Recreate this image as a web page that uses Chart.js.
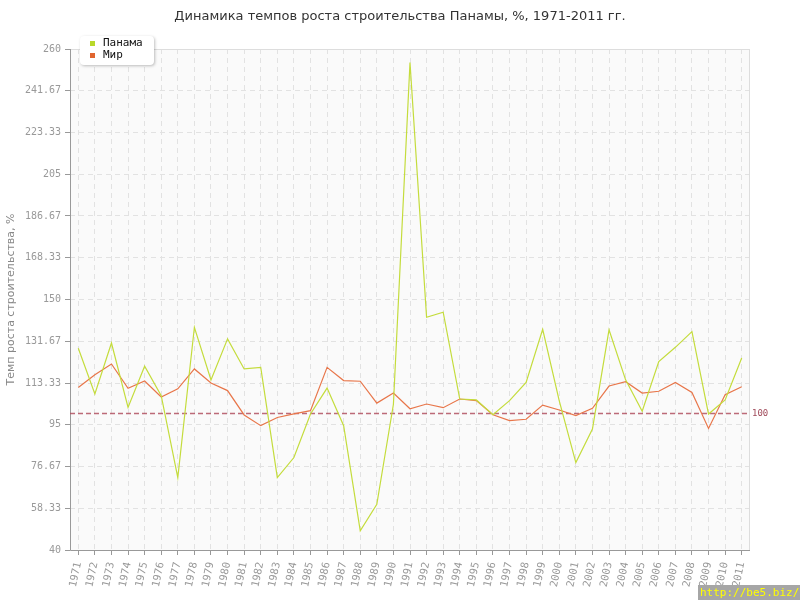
<!DOCTYPE html>
<html>
<head>
<meta charset="utf-8">
<script src="https://cdn.jsdelivr.net/npm/chart.js@4/dist/chart.umd.min.js"></script>
<style>
html,body{margin:0;padding:0;background:#fff;}
#wrap{width:800px;height:600px;position:relative;}
</style>
</head>
<body>
<div id="wrap"><canvas id="c" width="800" height="600"></canvas></div>
<script>
const titleText = 'Динамика темпов роста строительства Панамы, %, 1971-2011 гг.';
const yAxisTitle = 'Темп роста строительства, %';
const years = ['1971','1972','1973','1974','1975','1976','1977','1978','1979','1980',
  '1981','1982','1983','1984','1985','1986','1987','1988','1989','1990',
  '1991','1992','1993','1994','1995','1996','1997','1998','1999','2000',
  '2001','2002','2003','2004','2005','2006','2007','2008','2009','2010','2011'];
const panamaLabel = 'Панама';
const worldLabel = 'Мир';
const panama = [128.6, 108.5, 130.9, 102.6, 120.7, 107.8, 71.8, 137.8, 114.7, 132.7,
  119.5, 120.2, 71.8, 80.6, 99.7, 111.1, 94.6, 48.4, 60.1, 104,
  254.1, 142.2, 144.4, 106.3, 105.9, 99.4, 105.6, 113.6, 136.9, 105.5,
  78.4, 93.1, 136.7, 114.7, 100.9, 122.7, 129, 135.9, 99.7, 105.9, 124.3];
const world = [111.4, 117, 121.7, 111, 114.2, 107.2, 110.8, 119.5, 113.3, 110,
  99.3, 94.6, 98.2, 99.8, 101.2, 120.2, 114.4, 114.1, 104.5, 108.9,
  102, 104.1, 102.5, 106.3, 105.6, 99.4, 96.8, 97.4, 103.6, 101.5,
  99, 102.2, 112, 113.9, 108.9, 109.7, 113.6, 109.2, 93.4, 108.2, 111.7];
const yTicks = [40, 58.33, 76.67, 95, 113.33, 131.67, 150, 168.33, 186.67, 205, 223.33, 241.67, 260];
const yTickLabels = ['40','58.33','76.67','95','113.33','131.67','150','168.33','186.67','205','223.33','241.67','260'];
const refValue = 100;
const refLabel = '100';
const watermark = 'http://be5.biz/';

const colPanama = '#c4dc3c';
const colWorld = '#e8764a';

const decorPlugin = {
  id: 'decor',
  beforeDraw(chart) {
    const {ctx, chartArea: a} = chart;
    ctx.save();
    ctx.fillStyle = '#fff';
    ctx.fillRect(0, 0, chart.width, chart.height);
    ctx.fillStyle = '#fafafa';
    ctx.fillRect(a.left, a.top, a.right - a.left, a.bottom - a.top);
    ctx.restore();
  },
  beforeDatasetsDraw(chart) {
    const {ctx, chartArea: a, scales} = chart;
    ctx.save();
    ctx.lineWidth = 1;
    ctx.strokeStyle = '#dddddd';
    ctx.beginPath();
    ctx.moveTo(a.left, a.top + 0.5); ctx.lineTo(a.right, a.top + 0.5);
    ctx.moveTo(a.right - 0.5, a.top); ctx.lineTo(a.right - 0.5, a.bottom);
    ctx.stroke();
    ctx.strokeStyle = '#999999';
    ctx.beginPath();
    ctx.moveTo(a.left + 0.5, a.top); ctx.lineTo(a.left + 0.5, a.bottom + 0.5);
    ctx.lineTo(a.right, a.bottom + 0.5);
    ctx.stroke();
    const y = Math.round(scales.y.getPixelForValue(refValue)) + 0.5;
    ctx.strokeStyle = 'rgba(176,80,96,0.85)';
    ctx.lineWidth = 1.5;
    ctx.setLineDash([5, 3]);
    ctx.beginPath();
    ctx.moveTo(a.left, y); ctx.lineTo(a.right, y);
    ctx.stroke();
    ctx.setLineDash([]);
    ctx.fillStyle = '#a04a5a';
    ctx.font = '9px "DejaVu Sans Mono"';
    ctx.textAlign = 'left';
    ctx.textBaseline = 'middle';
    ctx.fillText(refLabel, a.right + 2, y);
    ctx.restore();
  },
  afterDraw(chart) {
    const {ctx} = chart;
    ctx.save();
    const bx = 80, by = 36, bw = 74, bh = 29, r = 4;
    ctx.shadowColor = 'rgba(0,0,0,0.25)';
    ctx.shadowBlur = 3;
    ctx.shadowOffsetX = 1;
    ctx.shadowOffsetY = 1;
    ctx.fillStyle = '#ffffff';
    ctx.beginPath();
    ctx.moveTo(bx + r, by);
    ctx.lineTo(bx + bw - r, by);
    ctx.quadraticCurveTo(bx + bw, by, bx + bw, by + r);
    ctx.lineTo(bx + bw, by + bh - r);
    ctx.quadraticCurveTo(bx + bw, by + bh, bx + bw - r, by + bh);
    ctx.lineTo(bx + r, by + bh);
    ctx.quadraticCurveTo(bx, by + bh, bx, by + bh - r);
    ctx.lineTo(bx, by + r);
    ctx.quadraticCurveTo(bx, by, bx + r, by);
    ctx.closePath();
    ctx.fill();
    ctx.shadowColor = 'transparent';
    const items = chart.data.datasets.map(d => ({label: d.label, color: d.legendColor}));
    ctx.font = '11px "DejaVu Sans Mono"';
    ctx.textBaseline = 'middle';
    ctx.textAlign = 'left';
    items.forEach((it, i) => {
      const cy = 43.5 + i * 11.8;
      ctx.fillStyle = it.color;
      ctx.fillRect(90, Math.round(cy - 2.5), 5, 5);
      ctx.fillStyle = '#111';
      ctx.fillText(it.label, 103, cy);
    });
    ctx.fillStyle = '#a6a6a6';
    ctx.fillRect(698, 585, 102, 15);
    ctx.fillStyle = '#ffff00';
    ctx.font = '11px "DejaVu Sans Mono"';
    ctx.textBaseline = 'middle';
    ctx.fillText(watermark, 700, 593);
    ctx.restore();
  }
};

new Chart(document.getElementById('c'), {
  type: 'line',
  data: {
    labels: years,
    datasets: [
      {label: panamaLabel, data: panama, borderColor: colPanama, legendColor: '#b8d82a', borderWidth: 1.2, pointRadius: 0, tension: 0, fill: false},
      {label: worldLabel, data: world, borderColor: colWorld, legendColor: '#e0652f', borderWidth: 1.2, pointRadius: 0, tension: 0, fill: false}
    ]
  },
  options: {
    responsive: false,
    animation: false,
    devicePixelRatio: 1,
    layout: {padding: {left: 0, right: 0, top: 0, bottom: 0}},
    plugins: {
      legend: {display: false},
      tooltip: {enabled: false},
      title: {
        display: true,
        text: titleText,
        color: '#333',
        font: {family: 'DejaVu Sans', size: 13, weight: 'normal', lineHeight: 1.2},
        padding: {top: 9, bottom: 24.4}
      }
    },
    scales: {
      x: {
        type: 'category',
        offset: true,
        grid: {display: true, offset: false, color: '#e2e2e2', lineWidth: 1, drawTicks: true, tickLength: 5, tickColor: '#999', tickWidth: 1, tickBorderDash: []},
        border: {display: false, dash: [5, 4]},
        ticks: {
          color: '#999',
          font: {family: 'DejaVu Sans Mono', size: 10.5},
          minRotation: 78, maxRotation: 78,
          autoSkip: false,
          padding: 6
        },
        afterFit(s) { s.height = 50; }
      },
      y: {
        type: 'linear',
        min: 40, max: 260,
        grid: {display: true, color: '#e2e2e2', lineWidth: 1, drawTicks: true, tickLength: 5, tickColor: '#999', tickWidth: 1, tickBorderDash: []},
        border: {display: false, dash: [5, 4]},
        afterBuildTicks(s) { s.ticks = yTicks.map(v => ({value: v})); },
        ticks: {
          color: '#999',
          font: {family: 'DejaVu Sans Mono', size: 10},
          padding: 4,
          callback: (v, i) => yTickLabels[i]
        },
        title: {
          display: true,
          text: yAxisTitle,
          color: '#888',
          font: {family: 'DejaVu Sans', size: 11},
          padding: {top: 5, bottom: 0}
        },
        afterFit(s) { s.width = 70; }
      },
      yRight: {
        type: 'linear',
        position: 'right',
        display: true,
        min: 40, max: 260,
        grid: {display: false, drawTicks: false},
        border: {display: false},
        ticks: {display: false},
        afterFit(s) { s.width = 50; }
      }
    }
  },
  plugins: [decorPlugin]
});
</script>
</body>
</html>
